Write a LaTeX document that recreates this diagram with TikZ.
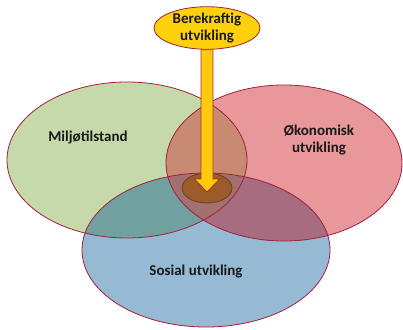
\documentclass[tikz,border=0pt]{standalone}
\usepackage{fontspec}
\setmainfont{Carlito}
\usepackage{tikz}
\usetikzlibrary{calc,shapes.geometric}
\definecolor{miljo}{HTML}{C5D9AA}
\definecolor{okonomi}{HTML}{E8979B}
\definecolor{sosial}{HTML}{96BAD3}
\definecolor{miljoOk}{HTML}{C98A72}
\definecolor{miljoSos}{HTML}{70A0A0}
\definecolor{okSos}{HTML}{A86C80}
\definecolor{alleTre}{HTML}{A2706F}
\definecolor{kant}{HTML}{A3203A}
\definecolor{gull}{HTML}{FFC90E}
\definecolor{kjernebrun}{HTML}{9C5B2B}

\tikzset{
  tekst/.style={font=\fontsize{15}{17}\selectfont\bfseries, align=center, text=black!90},
  ring/.style={draw=kant, line width=0.8pt},
  pil/.style={fill=gull, draw=kant!85!orange, line width=0.8pt, line join=miter},
}

\begin{document}
\begin{tikzpicture}[x=1pt,y=-1pt]
    \useasboundingbox[fill=white] (0,0) rectangle (403,329);
    \fill[miljo] (127,160) ellipse (120pt and 78pt);
    \fill[okonomi] (284,163) ellipse (118pt and 78pt);
    \fill[sosial] (206,250) ellipse (124pt and 77pt);
    \begin{scope}
        \clip (284,163) ellipse (118pt and 78pt);
        \fill[okSos] (206,250) ellipse (124pt and 77pt);
    \end{scope}
    \begin{scope}
        \clip (127,160) ellipse (120pt and 78pt);
        \fill[miljoOk] (284,163) ellipse (118pt and 78pt);
        \fill[miljoSos] (206,250) ellipse (124pt and 77pt);
        \clip (284,163) ellipse (118pt and 78pt);
        \fill[alleTre] (206,250) ellipse (124pt and 77pt);
    \end{scope}
    \draw[ring] (127,160) ellipse (120pt and 78pt);
    \draw[ring] (284,163) ellipse (118pt and 78pt);
    \draw[ring] (206,250) ellipse (124pt and 77pt);

    \node[tekst] (miljotekst) at (88,137) {Miljøtilstand};
    \node[tekst] (okonomitekst) at (319,140) {Økonomisk\\utvikling};
    \node[tekst] (sosialtekst) at (196,272) {Sosial utvikling};

    \node[ellipse, fill=kjernebrun, draw=kjernebrun!70!black, line width=0.8pt,
          minimum width=50pt, minimum height=30pt] (kjerne) at (207,188) {};
    \node[ellipse, tekst, fill=gull!85!yellow, draw=kant, line width=0.8pt, inner sep=0pt,
          minimum width=106pt, minimum height=42pt] (maal) at (207,28) {Berekraftig\\utvikling};
    \coordinate (tip) at (207,192);

    \filldraw[pil] ($(maal.south)+(-6,0)$) -- ($(tip)+(-6,-13)$) -- ($(tip)+(-12.5,-13)$)
        -- (tip) -- ($(tip)+(12.5,-13)$) -- ($(tip)+(6,-13)$) -- ($(maal.south)+(6,0)$) -- cycle;
\end{tikzpicture}
\end{document}
